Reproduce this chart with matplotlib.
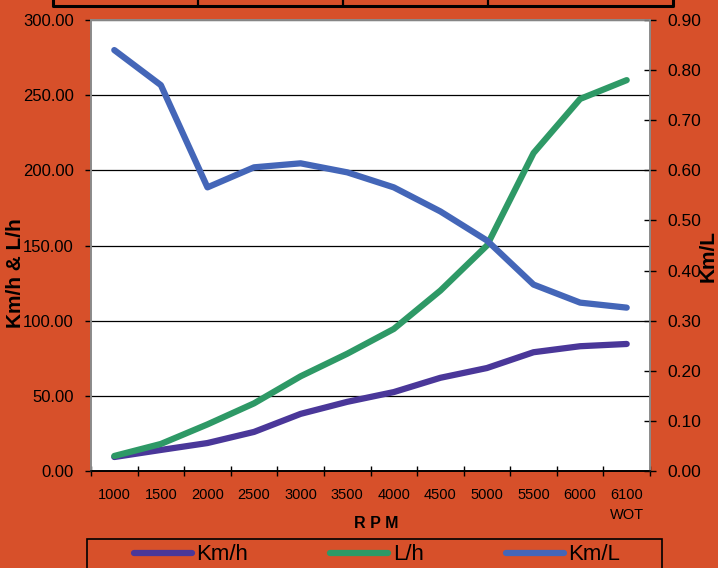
import numpy as np
import matplotlib.pyplot as plt
from matplotlib.lines import Line2D
from matplotlib.patches import Rectangle

plt.rcParams['font.family'] = ['Liberation Sans', 'DejaVu Sans']

# --- data ---
rpm_labels = ['1000', '1500', '2000', '2500', '3000', '3500', '4000',
              '4500', '5000', '5500', '6000', '6100\nWOT']
kmh = [9.3, 14, 18.6, 26, 38, 46, 52.5, 62, 68.5, 79, 83, 84.5]
lh = [10, 18, 31, 45, 63, 78, 94.5, 120, 150, 211.5, 247.5, 260]
kml = [0.84, 0.77, 0.566, 0.606, 0.614, 0.596, 0.566, 0.518, 0.46, 0.372, 0.336, 0.326]

bg = '#D7502A'
c_kmh = '#4A3799'
c_lh = '#2E9966'
c_kml = '#4466B8'

W, H = 718, 568
def fx(px):
    return px / W
def fy(py):
    return 1 - py / H

fig = plt.figure(figsize=(W / 100, H / 100), dpi=100, facecolor=bg)
ax = fig.add_axes([fx(91), fy(471), fx(650) - fx(91), fy(20) - fy(471)])
ax.set_facecolor('white')
ax2 = ax.twinx()

x = np.arange(len(rpm_labels))
lw = 4.5
l1, = ax.plot(x, kmh, color=c_kmh, lw=lw, solid_capstyle='round', solid_joinstyle='round', label='Km/h')
l2, = ax.plot(x, lh, color=c_lh, lw=lw, solid_capstyle='round', solid_joinstyle='round', label='L/h')
l3, = ax2.plot(x, kml, color=c_kml, lw=lw, solid_capstyle='round', solid_joinstyle='round', label='Km/L')

# left axis
ax.set_xlim(-0.5, len(rpm_labels) - 0.5)
ax.set_ylim(0, 300)
ax.set_yticks(np.arange(0, 301, 50))
ax.set_yticklabels([f'{v:.2f}' for v in np.arange(0, 301, 50)], fontsize=12)
ax.yaxis.grid(True, color='black', lw=0.9)
ax.set_axisbelow(True)
ax.tick_params(axis='y', direction='out', length=4.5, width=1, pad=8, colors='black')

# x axis: ticks between categories, labels at centres
ax.set_xticks(np.arange(-0.5, len(rpm_labels), 1))
ax.set_xticklabels([])
ax.set_xticks(x, minor=True)
ax.set_xticklabels(rpm_labels, minor=True, fontsize=10.5, linespacing=1.55)
ax.tick_params(axis='x', which='major', direction='inout', length=7, width=1)
ax.tick_params(axis='x', which='minor', length=0, pad=12)

# right axis
ax2.set_ylim(0, 0.9)
rt = np.arange(0, 0.91, 0.1)
ax2.set_yticks(rt)
ax2.set_yticklabels([f'{v:.2f}' for v in rt], fontsize=12.5)
ax2.tick_params(axis='y', direction='inout', length=9, width=1, pad=8)

for a in (ax, ax2):
    for s in ('left', 'right', 'top'):
        a.spines[s].set_color('#8a8a8a')
        a.spines[s].set_linewidth(1.2)
    a.spines['bottom'].set_color('black')
    a.spines['bottom'].set_linewidth(1.2)

# axis titles
fig.text(fx(16), fy(273), 'Km/h & L/h', rotation=90, ha='center', va='center',
         fontsize=15, fontweight='bold')
fig.text(fx(708), fy(256), 'Km/L', rotation=90, ha='center', va='center',
         fontsize=15, fontweight='bold')
fig.text(fx(376), fy(524), 'R P M', ha='center', va='center', fontsize=11.5, fontweight='bold')

# legend box at the bottom (cut off by the figure edge)
fig.add_artist(Rectangle((fx(87), -0.05), fx(662) - fx(87), fy(539) + 0.05,
                         transform=fig.transFigure, facecolor='none',
                         edgecolor='black', lw=1.2))
fig.legend(handles=[l1, l2, l3], loc='center', bbox_to_anchor=(fx(377), fy(555)),
           ncol=3, frameon=False, fontsize=16, handlelength=2.6, handletextpad=0.2,
           columnspacing=3.7)

# table frame peeking in at the top
tbl_l, tbl_r, tbl_b = fx(53), fx(673), fy(6)
fig.add_artist(Line2D([tbl_l, tbl_l, tbl_r, tbl_r], [1.05, tbl_b, tbl_b, 1.05],
                      transform=fig.transFigure, color='black', lw=2.2))
for px in (198, 343, 488):
    fig.add_artist(Line2D([fx(px), fx(px)], [tbl_b, 1.05], transform=fig.transFigure,
                          color='black', lw=1.6))

fig.savefig('out.png', dpi=100, facecolor=bg)
